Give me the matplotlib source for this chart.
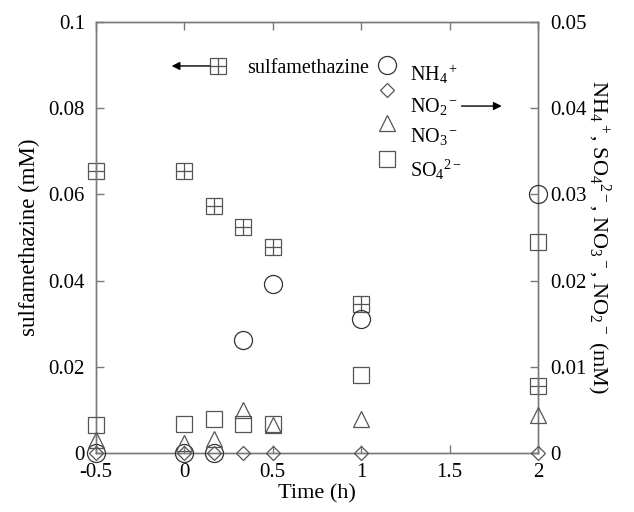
import numpy as np
import matplotlib
matplotlib.use('Agg')
import matplotlib.pyplot as plt

plt.rcParams['font.family'] = ['Liberation Serif', 'DejaVu Serif']
plt.rcParams['mathtext.fontset'] = 'custom'
plt.rcParams['mathtext.rm'] = 'Liberation Serif'
plt.rcParams['mathtext.it'] = 'Liberation Serif:italic'
plt.rcParams['mathtext.default'] = 'regular'

# time (h)
t = [-0.5, 0, 1/6, 1/3, 0.5, 1, 2]
# left axis, mM
smz = [0.0655, 0.0655, 0.0574, 0.0525, 0.0478, 0.0345, 0.0155]
# right axis, mM
nh4 = [0, 0, 0, 0.0131, 0.0196, 0.0156, 0.0300]
no2 = [0, 0, 0, 0, 0, 0, 0]
no3 = [0.0015, 0.0012, 0.0016, 0.0050, 0.0032, 0.0039, 0.0044]
so4 = [0.0033, 0.0034, 0.0040, 0.0034, 0.0034, 0.0090, 0.0245]

xticks = [-0.5, 0, 0.5, 1, 1.5, 2]
lticks = [0, 0.02, 0.04, 0.06, 0.08, 0.1]
rticks = [0, 0.01, 0.02, 0.03, 0.04, 0.05]

gray = '#7a7a7a'
edge = '#555555'
dark = '#333333'

fig = plt.figure(figsize=(6.34, 5.12), dpi=100)
ax = fig.add_axes([96/634, 59/512, 442/634, 431/512])
ax2 = ax.twinx()

ax.set_xlim(-0.5, 2)
ax.set_ylim(0, 0.1)
ax2.set_ylim(0, 0.05)

ax.set_xticks(xticks)
ax.set_xticklabels(['-0.5', '0', '0.5', '1', '1.5', '2'])
ax.set_yticks(lticks)
ax.set_yticklabels(['0', '0.02', '0.04', '0.06', '0.08', '0.1'])
ax2.set_yticks(rticks)
ax2.set_yticklabels(['0', '0.01', '0.02', '0.03', '0.04', '0.05'])

for a in (ax, ax2):
    for s in a.spines.values():
        s.set_color(gray)
        s.set_linewidth(1.0)
ax.tick_params(axis='x', direction='in', length=6, width=1, color=gray,
               labelsize=15, top=True, pad=7)
ax.tick_params(axis='y', direction='in', length=6, width=1, color=gray,
               labelsize=15, pad=8)
ax2.tick_params(axis='y', direction='in', length=6, width=1, color=gray,
                labelsize=15, pad=9)

lw = 0.9
# sulfamethazine: boxed plus
ax.plot(t, smz, ls='none', marker='s', ms=11, mfc='none', mec=edge, mew=lw, clip_on=False, zorder=5)
ax.plot(t, smz, ls='none', marker='+', ms=11, mec=edge, mew=lw, clip_on=False, zorder=5)

ax2.plot(t, nh4, ls='none', marker='o', ms=13, mfc='none', mec=dark, mew=lw, clip_on=False, zorder=5)
ax2.plot(t, no2, ls='none', marker='D', ms=7.5, mfc='none', mec=edge, mew=lw, clip_on=False, zorder=5)
ax2.plot(t, no3, ls='none', marker='^', ms=12, mfc='none', mec=edge, mew=lw, clip_on=False, zorder=5)
ax2.plot(t, so4, ls='none', marker='s', ms=12, mfc='none', mec=edge, mew=lw, clip_on=False, zorder=5)

# legend keys
tr = ax.transAxes
ax.plot([0.275], [0.897], transform=tr, marker='s', ms=11, mfc='none', mec=edge, mew=lw, ls='none')
ax.plot([0.275], [0.897], transform=tr, marker='+', ms=11, mec=edge, mew=lw, ls='none')
ax.text(0.341, 0.881, 'sulfamethazine', transform=tr, fontsize=14.5, va='baseline')
ax.annotate('', xy=(0.171, 0.898), xytext=(0.258, 0.898), xycoords=tr,
            arrowprops=dict(arrowstyle='-|>', color='black', lw=1, mutation_scale=12, shrinkA=0, shrinkB=0))

keys = [('o', 13, dark, 0.900, r'NH$_4$$^+$', 0.862),
        ('D', 7.5, edge, 0.842, r'NO$_2$$^-$', 0.792),
        ('^', 12, edge, 0.765, r'NO$_3$$^-$', 0.722),
        ('s', 12, edge, 0.683, r'SO$_4$$^{2-}$', 0.641)]
for m, ms, c, ym, lab, yt in keys:
    ax.plot([0.659], [ym], transform=tr, marker=m, ms=ms, mfc='none', mec=c, mew=lw, ls='none')
    ax.text(0.710, yt, lab, transform=tr, fontsize=14.5, va='baseline')
ax.annotate('', xy=(0.918, 0.805), xytext=(0.827, 0.805), xycoords=tr,
            arrowprops=dict(arrowstyle='-|>', color='black', lw=1, mutation_scale=12, shrinkA=0, shrinkB=0))

ax.set_xlabel('Time (h)', fontsize=16, labelpad=2)
ax.set_ylabel('sulfamethazine (mM)', fontsize=16.5, labelpad=6)
ax2.set_ylabel(r'NH$_4$$^+$, SO$_4$$^{2-}$, NO$_3$$^-$, NO$_2$$^-$ (mM)', fontsize=16,
               rotation=-90, labelpad=18)

fig.savefig('out.png', dpi=100)
